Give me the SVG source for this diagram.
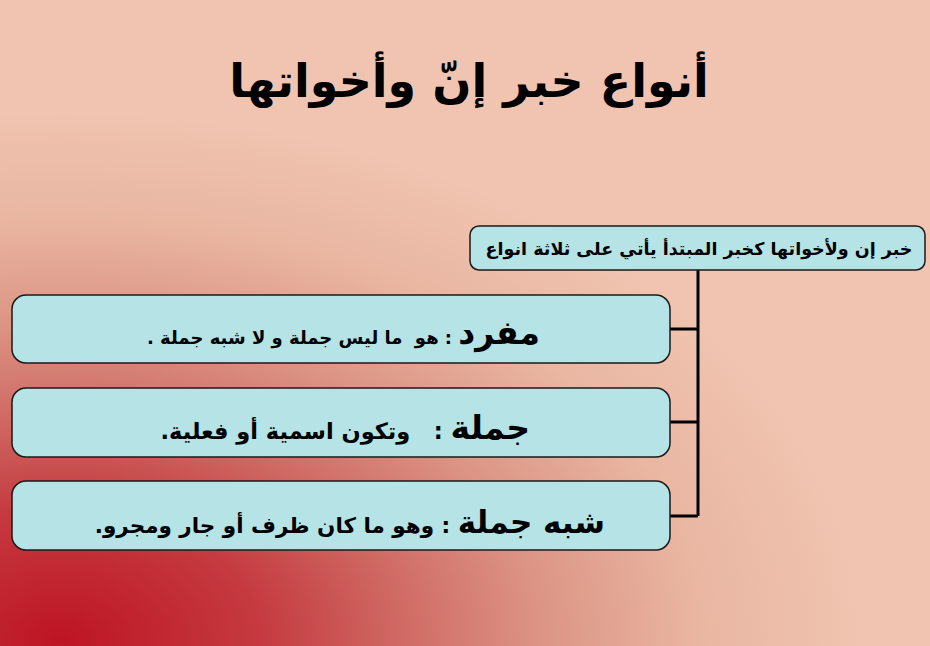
<svg xmlns="http://www.w3.org/2000/svg" width="930" height="646" viewBox="0 0 930 646">
<defs>
<radialGradient id="bg" cx="60" cy="640" r="800" gradientUnits="userSpaceOnUse" gradientTransform="translate(60 640) scale(1 0.66) translate(-60 -640)">
<stop offset="0" stop-color="#be1424"/>
<stop offset="0.25" stop-color="#c53a40"/>
<stop offset="0.42" stop-color="#cf6862"/>
<stop offset="0.6" stop-color="#dc9484"/>
<stop offset="0.8" stop-color="#e9b6a2"/>
<stop offset="1" stop-color="#f0c4b0"/>
</radialGradient>
</defs>
<style>
.box{fill:#b5e3e6;stroke:#1a1a1a;stroke-width:1.5}
.t{font-family:"DejaVu Sans","Noto Sans",sans-serif;fill:#000;direction:rtl;white-space:pre}
.big{font-size:33px;font-weight:bold}
.sm{font-size:18px;font-weight:bold}
.conn{stroke:#000;stroke-width:3;fill:none}
</style>
<rect width="930" height="646" fill="url(#bg)"/>
<g id="title">
<text class="t" x="469" y="97" text-anchor="middle" font-size="46" font-weight="bold">أنواع خبر إنّ وأخواتها</text>
</g>
<g id="connectors">
<path class="conn" d="M698 270 V516 M670 329 H698 M670 422 H698 M670 516 H698"/>
</g>
<g id="root">
<rect class="box" x="470" y="226" width="455" height="44" rx="9"/>
<text class="t" x="699" y="255" text-anchor="middle" font-size="17.5" font-weight="bold">خبر إن ولأخواتها كخبر المبتدأ يأتي على ثلاثة انواع</text>
</g>
<g id="mufrad">
<rect class="box" x="12" y="295" width="658" height="68" rx="14"/>
<text class="t" x="540" y="344" text-anchor="start"><tspan class="big">مفرد</tspan><tspan class="sm"> : هو  ما ليس جملة و لا شبه جملة .</tspan></text>
</g>
<g id="jumla">
<rect class="box" x="12" y="388" width="658" height="69" rx="14"/>
<text class="t" x="530" y="439" text-anchor="start"><tspan class="big">جملة</tspan><tspan class="sm" style="font-size:22.5px"> :   وتكون اسمية أو فعلية.</tspan></text>
</g>
<g id="shibh">
<rect class="box" x="12" y="481" width="658" height="69" rx="14"/>
<text class="t" x="605" y="533" text-anchor="start"><tspan class="big" style="font-size:31px">شبه جملة</tspan><tspan class="sm" style="font-size:21.5px"> : وهو ما كان ظرف أو جار ومجرو.</tspan></text>
</g>
</svg>
